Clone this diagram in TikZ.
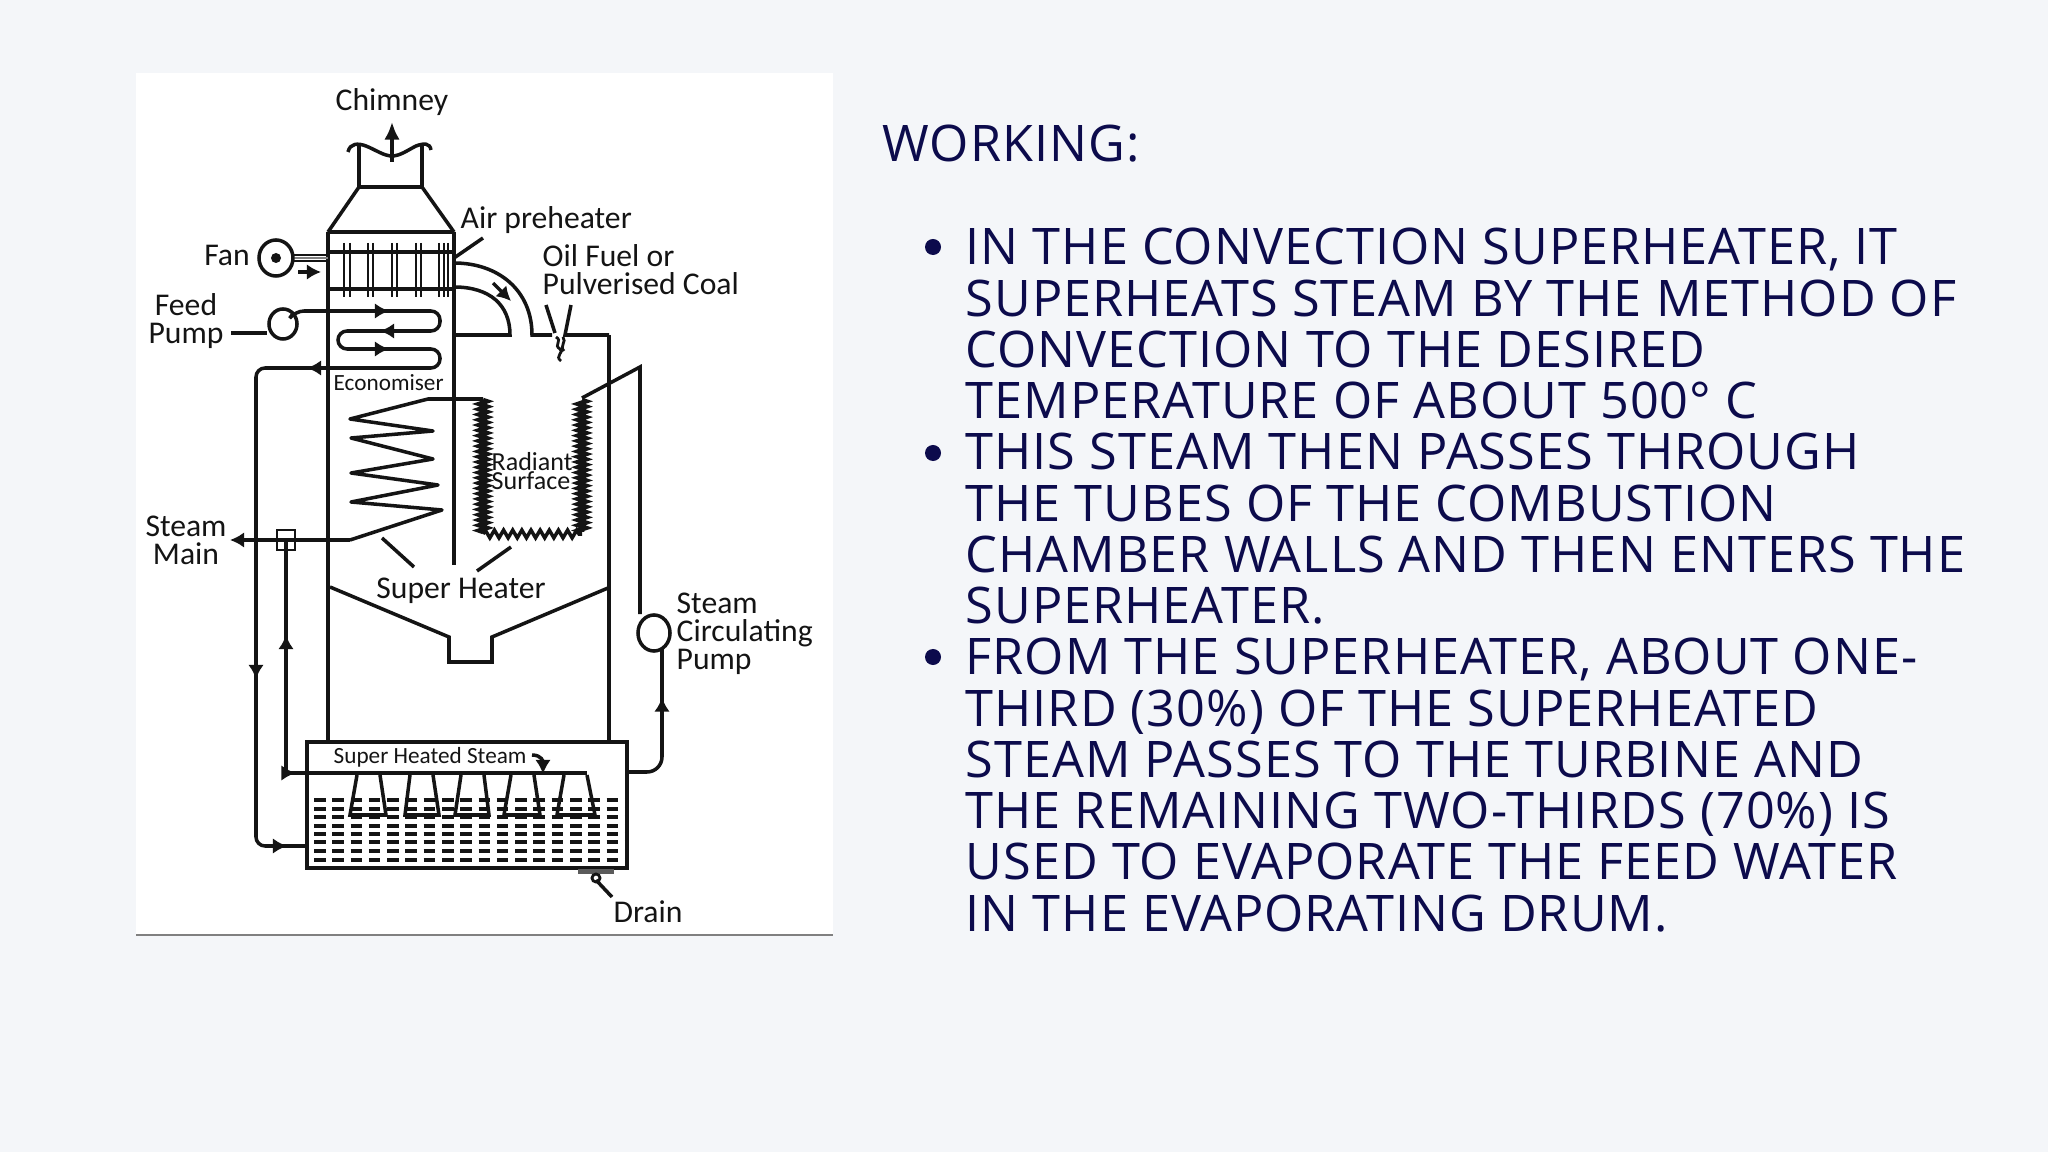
\documentclass[tikz,border=0pt]{standalone}
\usepackage{fontspec}
\setmainfont[LetterSpace=2]{Open Sans}
\newfontfamily\lblfont{Carlito}
\usepackage{tikz}
\usetikzlibrary{arrows.meta}
\usetikzlibrary{shapes.geometric}
\usetikzlibrary{decorations.markings}
\usetikzlibrary{decorations.pathmorphing}
\definecolor{pagebg}{HTML}{F4F6F9}
\definecolor{inkblue}{HTML}{0C0B4C}
\definecolor{pipeink}{HTML}{141414}
\tikzset{-arr-/.style={decoration={
    markings,
    mark=at position #1 with {\arrow{Latex[length=4pt,width=4.4pt]}}},postaction={decorate}}
}
\tikzset{pipe/.style={draw=pipeink,line width=1pt}}
\tikzset{thinpipe/.style={draw=pipeink,line width=0.8pt}}
\tikzset{dashrow/.style={draw=pipeink,line width=1pt,dash pattern=on 3.3pt off 1.9pt}}
\tikzset{lbl/.style={text=pipeink,inner sep=0pt,align=center,font=\lblfont\fontsize{9pt}{8pt}\selectfont}}
\tikzset{smlbl/.style={text=pipeink,inner sep=0pt,font=\lblfont\fontsize{6.6pt}{6.6pt}\selectfont}}
\tikzset{midlbl/.style={text=pipeink,inner sep=0pt,align=left,font=\lblfont\fontsize{7.4pt}{5.4pt}\selectfont}}
\tikzset{pumpnode/.style={ellipse,pipe,fill=white,inner sep=0pt}}
\tikzset{bodytext/.style={text=inkblue,inner sep=0pt,anchor=base west,align=left,font=\fontsize{14.34pt}{14.57pt}\selectfont}}
\tikzset{tube/.style={draw=pipeink,line width=1.3pt,decorate,decoration={zigzag,segment length=1.5pt,amplitude=1.1pt}}}
\begin{document}
\begin{tikzpicture}[x=0.01cm,y=-0.01cm]
                \useasboundingbox (0,0) rectangle (2048,1152);
                \fill[pagebg] (0,0) rectangle (2048,1152);
                \fill[white] (136,73) rectangle (833,935);
                \draw[gray,line width=0.4pt] (136,935) -- (833,935);

                % Chimney and hood
                \draw[pipe] (359,145) -- (359,187) -- (422,187) -- (422,145);
                \draw[pipe] (348,152) .. controls (350,143) and (358,143) .. (366,146) .. controls (376,150) and (384,156) .. (392,156) .. controls (400,156) and (408,150) .. (416,146) .. controls (424,143) and (430,143) .. (431,150);
                \draw[pipe,-{Latex[length=5pt,width=4.4pt]}] (392,162) -- (392,122);
                \draw[pipe] (359,187) -- (328,232);
                \draw[pipe] (422,187) -- (454,232);

                % Furnace walls
                \draw[pipe] (328,232) -- (454,232);
                \draw[pipe] (328,232) -- (328,741);
                \draw[pipe] (454,232) -- (454,565);
                \draw[pipe] (609,335) -- (609,741);

                % Air preheater
                \draw[pipe] (328,252) -- (454,252);
                \draw[pipe] (328,289) -- (454,289);
                \draw[thinpipe] (344,243) -- (344,297);
                \draw[thinpipe] (350,243) -- (350,297);
                \draw[thinpipe] (368,243) -- (368,297);
                \draw[thinpipe] (373,243) -- (373,297);
                \draw[thinpipe] (392,243) -- (392,297);
                \draw[thinpipe] (397,243) -- (397,297);
                \draw[thinpipe] (416,243) -- (416,297);
                \draw[thinpipe] (421,243) -- (421,297);
                \draw[thinpipe] (439,243) -- (439,297);
                \draw[thinpipe] (444,243) -- (444,297);
                \draw[thinpipe] (448,243) -- (448,297);

                % Fan
                \node[pumpnode,minimum width=0.34cm,minimum height=0.36cm] (fan) at (276,258) {};
                \fill[pipeink] (fan.center) circle (0.05cm);
                \draw[line width=0.8pt,draw=gray] (fan.east) -- (328,258);
                \draw[thinpipe] (294,255) -- (328,255);
                \draw[thinpipe] (294,261) -- (328,261);
                \draw[pipe,-{Latex[length=4pt,width=4.4pt]}] (298,272) -- (321,272);

                % Air duct
                \draw[pipe] (454,263) .. controls (498,263) and (532,290) .. (532,335) -- (552,335);
                \draw[pipe] (454,287) .. controls (490,287) and (510,305) .. (510,335) -- (454,335);
                \draw[pipe,-{Latex[length=4pt,width=4.4pt]}] (493,283) -- (511,301);

                % Burner
                \draw[pipe] (546,305) -- (555,333);
                \draw[pipe] (571,305) -- (565,335) -- (609,335);
                \draw[thinpipe] (556,337) .. controls (563,341) and (553,345) .. (560,349) .. controls (565,352) and (554,356) .. (561,361);
                \draw[thinpipe] (563,337) .. controls (567,342) and (559,346) .. (564,351);

                % Economiser
                \node[pumpnode,minimum width=0.28cm,minimum height=0.3cm] (feedpump) at (283,324) {};
                \coordinate (feedin) at (231,333);
                \draw[pipe] (feedin) -- (feedin -| feedpump.west);
                \draw[pipe,rounded corners=0.09cm] (feedpump.north east) -- (295,311) -- (440,311) -- (440,331) -- (338,331) -- (338,349) -- (440,349) -- (440,368) -- (256,368) -- (256,846) -- (307,846);
                \draw[pipe,-arr-=0.5] (370,311) -- (408,311);
                \draw[pipe,-arr-=0.5] (398,331) -- (362,331);
                \draw[pipe,-arr-=0.5] (370,349) -- (408,349);
                \draw[pipe,-arr-=0.5] (330,368) -- (284,368);
                \draw[pipe,-arr-=0.5] (256,660) -- (256,698);
                \draw[pipe,-arr-=0.5] (268,846) -- (306,846);

                % Super heater coil
                \draw[pipe,line join=round] (483,399) -- (428,399) -- (350,419) -- (433,431) -- (351,438) -- (433,459) -- (351,473) -- (438,485) -- (351,502) -- (442,510) -- (350,540);
                \draw[pipe,-{Latex[length=4pt,width=4.4pt]}] (350,540) -- (230,540);
                \node[draw=pipeink,line width=0.8pt,minimum width=0.18cm,minimum height=0.2cm,inner sep=0pt] (valve) at (286,540) {};
                \coordinate (spray) at (286,773);
                \draw[pipe] (valve.center) -- (spray);
                \draw[pipe,-arr-=0.5] (286,650) -- (286,620);

                % Radiant surface
                \draw[tube] (483,400) -- (483,532);
                \draw[tube] (582,400) -- (582,532);
                \draw[pipe,decorate,decoration={zigzag,segment length=2.6pt,amplitude=1.1pt}] (483,534) -- (582,534);
                \draw[pipe] (582,398) -- (640,367) -- (640,614);

                % Pointers
                \draw[pipe] (382,538) -- (414,567);
                \draw[pipe] (511,547) -- (477,571);

                % Hopper
                \draw[pipe] (330,587) -- (449,637) -- (449,662) -- (492,662) -- (492,637) -- (608,588);

                % Steam circulating pump
                \node[pumpnode,minimum width=0.32cm,minimum height=0.36cm] (circpump) at (654,633) {};
                \draw[pipe,rounded corners=0.15cm] (662,649) -- (662,772) -- (628,772);
                \draw[pipe,-arr-=0.5] (662,715) -- (662,680);

                % Evaporating drum
                \node[draw=pipeink,line width=1pt,minimum width=3.2cm,minimum height=1.26cm,inner sep=0pt] (drum) at (467,805) {};
                \draw[pipe] (spray) -- (587,773);
                \draw[pipe,-arr-=0.5] (286,773) -- (305,773);
                \draw[pipe] (357,775) -- (350,815) -- (386,815) -- (380,775);
                \draw[pipe] (410,775) -- (405,815) -- (439,815) -- (433,775);
                \draw[pipe] (461,775) -- (455,815) -- (489,815) -- (484,775);
                \draw[pipe] (511,775) -- (504,815) -- (540,815) -- (534,775);
                \draw[pipe] (564,775) -- (557,815) -- (595,815) -- (587,775);
                \draw[dashrow] (314,800) -- (625,800);
                \draw[dashrow] (314,809) -- (625,809);
                \draw[dashrow] (314,817) -- (625,817);
                \draw[dashrow] (314,826) -- (625,826);
                \draw[dashrow] (314,834) -- (625,834);
                \draw[dashrow] (314,842) -- (625,842);
                \draw[dashrow] (314,851) -- (625,851);
                \draw[dashrow] (314,860) -- (625,860);
                \draw[pipe,-{Latex[length=4pt,width=4.4pt]}] (532,755) .. controls (542,755) and (543,762) .. (543,774);

                % Drain
                \fill[pipeink!70] (578,869) rectangle (614,874);
                \draw[thinpipe] (596,878) circle (0.04cm);
                \draw[pipe] (596,880) -- (612,897);

                % Labels
                \node[lbl] (chimney) at (392,102) {Chimney};
                \node[lbl,anchor=west] (airpre) at (460,220) {Air preheater};
                \draw[pipe] (483,238) -- (454,258);
                \node[lbl,anchor=west,align=left] (oilfuel) at (542,270) {Oil Fuel or\\Pulverised Coal};
                \node[lbl] (fanlbl) at (227,255) {Fan};
                \node[lbl] (feedlbl) at (186,321) {Feed\\Pump};
                \node[smlbl,anchor=west] (econ) at (333,383) {Economiser};
                \node[midlbl,anchor=west] (radiant) at (491,471) {Radiant\\Surface};
                \node[lbl] (steamlbl) at (186,540) {Steam\\Main};
                \node[lbl] (superlbl) at (461,591) {Super Heater};
                \node[lbl,anchor=west,align=left] (steamcirc) at (676,634) {Steam\\Circulating\\Pump};
                \node[smlbl,anchor=west] (heated) at (333,757) {Super Heated Steam};
                \node[lbl] (drain) at (648,912) {Drain};

                % Right column
                \node[bodytext] (working) at (882,162) {WORKING:};
                \fill[inkblue] (933,247) circle (0.08cm);
                \fill[inkblue] (933,453) circle (0.08cm);
                \fill[inkblue] (933,657) circle (0.08cm);
                \node[bodytext] (first) at (965,418.6) {IN THE CONVECTION SUPERHEATER, IT\\SUPERHEATS STEAM BY THE METHOD OF\\CONVECTION TO THE DESIRED\\TEMPERATURE OF ABOUT 500° C};
                \node[bodytext] (second) at (965,623.6) {THIS STEAM THEN PASSES THROUGH\\THE TUBES OF THE COMBUSTION\\CHAMBER WALLS AND THEN ENTERS THE\\SUPERHEATER.};
                \node[bodytext] (third) at (965,931) {FROM THE SUPERHEATER, ABOUT ONE-\\THIRD (30\%) OF THE SUPERHEATED\\STEAM PASSES TO THE TURBINE AND\\THE REMAINING TWO-THIRDS (70\%) IS\\USED TO EVAPORATE THE FEED WATER\\IN THE EVAPORATING DRUM.};
            \end{tikzpicture}
\end{document}
